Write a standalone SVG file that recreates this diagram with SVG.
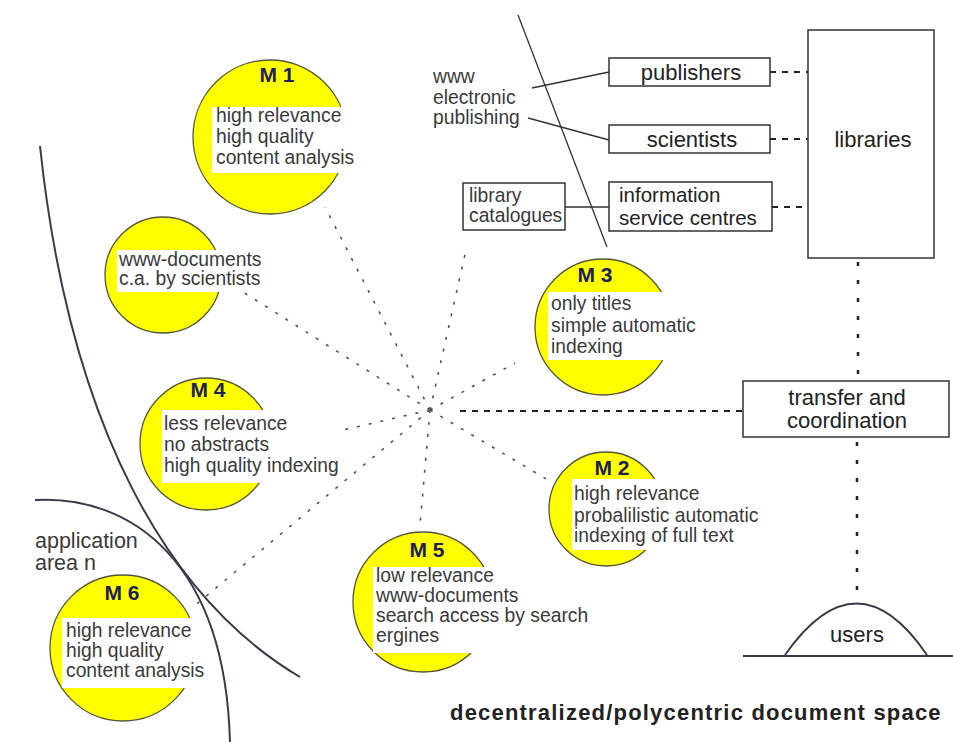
<svg xmlns="http://www.w3.org/2000/svg" width="953" height="742" viewBox="0 0 953 742">
<style>
.circ{fill:#ffff00;stroke:#55553a;stroke-width:1.3}
.tb{fill:#ffffff;stroke:none}
.t{font-family:"Liberation Sans",Arial,sans-serif;font-size:19.3px;fill:#3a3a3a}
.m{font-family:"Liberation Sans",Arial,sans-serif;font-size:21px;font-weight:bold;fill:#1e1e5a;text-anchor:middle}
.bx{fill:#ffffff;stroke:#333333;stroke-width:1.5}
.bt{font-family:"Liberation Sans",Arial,sans-serif;font-size:22px;fill:#222222}
.ray{stroke:#555555;stroke-width:1.6;stroke-dasharray:3 9;fill:none}
.dash{stroke:#222222;stroke-width:2.2;stroke-dasharray:6 6;fill:none}
.dot{stroke:#222222;stroke-width:2.5;stroke-dasharray:4 14;fill:none}
.line{stroke:#333333;stroke-width:1.3;fill:none}
.arc{stroke:#3a3a4a;stroke-width:2;fill:none}
</style>
<rect width="953" height="742" fill="#ffffff"/>
<g id="connectors">
<line class="ray" x1="430" y1="410" x2="325" y2="207"/>
<line class="ray" x1="430" y1="410" x2="243" y2="292"/>
<line class="ray" x1="430" y1="410" x2="300" y2="440"/>
<line class="ray" x1="430" y1="410" x2="193" y2="607"/>
<line class="ray" x1="430" y1="410" x2="420" y2="525"/>
<line class="ray" x1="430" y1="410" x2="553" y2="483"/>
<line class="ray" x1="430" y1="410" x2="515" y2="363"/>
<line class="ray" x1="430" y1="410" x2="466" y2="250"/>
<line class="dash" x1="460" y1="411" x2="742" y2="411"/>
<line class="dash" x1="770" y1="72" x2="808" y2="72"/>
<line class="dash" x1="770" y1="139" x2="808" y2="139"/>
<line class="dash" x1="772" y1="207" x2="808" y2="207"/>
<line class="dot" x1="858" y1="262" x2="858" y2="380"/>
<line class="dot" x1="857" y1="442" x2="857" y2="603"/>
<line class="line" x1="532" y1="88" x2="609" y2="72"/>
<line class="line" x1="528" y1="118" x2="609" y2="140"/>
<line class="line" x1="565" y1="207" x2="609" y2="207"/>
<line class="line" x1="518" y1="15" x2="607" y2="247"/>
</g>
<g id="boundaries">
<path class="arc" d="M40 146 C70 430 170 600 300 677"/>
<path class="arc" d="M35 500 C130 495 225 560 230 742"/>
<path class="arc" d="M785 655 Q857 552 927 655"/>
<line class="arc" x1="743" y1="656" x2="953" y2="656"/>
</g>
<g id="M1">
<circle class="circ" cx="270" cy="137" r="77"/>
<rect class="tb" x="212" y="107" width="143" height="66"/>
<text class="m" x="277" y="82">M 1</text>
<text class="t" x="216" y="122">high relevance</text>
<text class="t" x="216" y="143">high quality</text>
<text class="t" x="216" y="164">content analysis</text>
</g>
<g id="wwwdocs">
<circle class="circ" cx="163" cy="275" r="58"/>
<rect class="tb" x="117" y="250" width="145" height="42"/>
<text class="t" x="119" y="266">www-documents</text>
<text class="t" x="119" y="285">c.a. by scientists</text>
</g>
<g id="M3">
<circle class="circ" cx="603" cy="327" r="68"/>
<rect class="tb" x="548" y="292" width="147" height="68"/>
<text class="m" x="595" y="282">M 3</text>
<text class="t" x="551" y="310">only titles</text>
<text class="t" x="551" y="332">simple automatic</text>
<text class="t" x="551" y="353">indexing</text>
</g>
<g id="M4">
<circle class="circ" cx="206" cy="444" r="66"/>
<rect class="tb" x="162" y="410" width="178" height="73"/>
<text class="m" x="208" y="397">M 4</text>
<text class="t" x="164" y="430">less relevance</text>
<text class="t" x="164" y="451">no abstracts</text>
<text class="t" x="164" y="472">high quality indexing</text>
</g>
<g id="M2">
<circle class="circ" cx="606" cy="509" r="57"/>
<rect class="tb" x="572" y="479" width="190" height="71"/>
<text class="m" x="612" y="475">M 2</text>
<text class="t" x="574" y="500">high relevance</text>
<text class="t" x="574" y="522">probalilistic automatic</text>
<text class="t" x="574" y="542">indexing of full text</text>
</g>
<g id="M5">
<circle class="circ" cx="423" cy="602" r="70"/>
<rect class="tb" x="373" y="567" width="214" height="86"/>
<text class="m" x="427" y="557">M 5</text>
<text class="t" x="376" y="582">low relevance</text>
<text class="t" x="376" y="602">www-documents</text>
<text class="t" x="376" y="622">search access by search</text>
<text class="t" x="376" y="642">ergines</text>
</g>
<g id="M6">
<circle class="circ" cx="123" cy="648" r="73"/>
<rect class="tb" x="62" y="618" width="143" height="70"/>
<text class="m" x="122" y="600">M 6</text>
<text class="t" x="66" y="637">high relevance</text>
<text class="t" x="66" y="657">high quality</text>
<text class="t" x="66" y="677">content analysis</text>
</g>
<g id="appArea">
<text class="t" x="35" y="548" style="font-size:21.5px">application</text>
<text class="t" x="35" y="570" style="font-size:21.5px">area n</text>
</g>
<g id="wwwPublishing">
<text class="t" x="433" y="83">www</text>
<text class="t" x="433" y="104">electronic</text>
<text class="t" x="433" y="124">publishing</text>
</g>
<g id="publishers">
<rect class="bx" x="609" y="58" width="161" height="28"/>
<text class="bt" x="691" y="80" text-anchor="middle">publishers</text>
</g>
<g id="scientists">
<rect class="bx" x="609" y="125" width="161" height="28"/>
<text class="bt" x="692" y="147" text-anchor="middle">scientists</text>
</g>
<g id="infoCentres">
<rect class="bx" x="609" y="182" width="163" height="49"/>
<text class="bt" x="619" y="202" style="font-size:20.5px">information</text>
<text class="bt" x="619" y="225" style="font-size:20.5px">service centres</text>
</g>
<g id="libCatalogues">
<rect class="bx" x="463" y="183" width="102" height="47"/>
<text class="t" x="469" y="202">library</text>
<text class="t" x="469" y="222">catalogues</text>
</g>
<g id="libraries">
<rect class="bx" x="808" y="30" width="126" height="228"/>
<text class="bt" x="873" y="147" text-anchor="middle">libraries</text>
</g>
<g id="transfer">
<rect class="bx" x="743" y="381" width="206" height="56"/>
<text class="bt" x="847" y="405" text-anchor="middle">transfer and</text>
<text class="bt" x="847" y="428" text-anchor="middle">coordination</text>
</g>
<g id="users">
<text class="bt" x="857" y="642" text-anchor="middle">users</text>
</g>
<g id="title">
<text x="450" y="720" style="font-family:'Liberation Sans',Arial,sans-serif;font-size:22px;font-weight:bold;fill:#222222;letter-spacing:1.2px">decentralized/polycentric document space</text>
</g>
</svg>
